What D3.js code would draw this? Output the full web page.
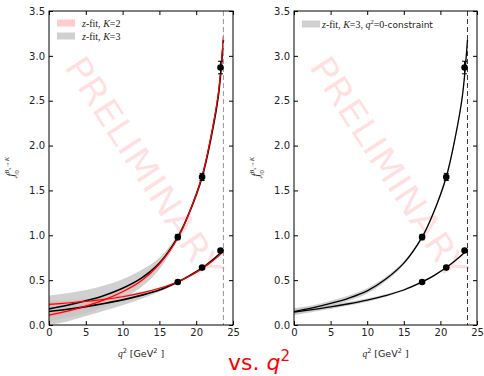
<!DOCTYPE html>
<html>
<head>
<meta charset="utf-8">
<script src="https://cdn.jsdelivr.net/npm/d3@7"></script>
<style>
  body { margin: 0; background: #fff; }
  svg { display: block; }
  text { font-family: "DejaVu Sans", sans-serif; }
</style>
</head>
<body>
<svg id="chart" width="484" height="376"></svg>
<script>
// q^2 grid the curves were read at (GeV^2)
const qGrid = [0, 2.5, 5, 7.5, 10, 12.5, 15, 17.5, 19, 20.8, 22, 23, 23.7]

// left panel: K=3 fit (black, grey band)
const fpK3 = [0.18, 0.22, 0.27, 0.33, 0.41, 0.52, 0.69, 0.98, 1.24, 1.65, 2.08, 2.55, 3.18]
const fpK3Lo = [0.04, 0.08, 0.13, 0.20, 0.29, 0.42, 0.62, 0.95, 1.21, 1.61, 2.03, 2.49, 3.08]
const fpK3Hi = [0.33, 0.355, 0.39, 0.44, 0.51, 0.61, 0.75, 1.01, 1.27, 1.69, 2.13, 2.62, 3.28]
const f0K3 = [0.15, 0.175, 0.205, 0.24, 0.28, 0.33, 0.39, 0.48, 0.545, 0.635, 0.71, 0.78, 0.835]
const f0K3Lo = [0.00, 0.04, 0.10, 0.16, 0.22, 0.29, 0.37, 0.465, 0.53, 0.62, 0.695, 0.765, 0.82]
const f0K3Hi = [0.27, 0.27, 0.29, 0.31, 0.335, 0.37, 0.41, 0.495, 0.56, 0.65, 0.725, 0.795, 0.85]

// left panel: K=2 fit (red, pink band)
const fpK2 = [0.11, 0.155, 0.21, 0.28, 0.37, 0.49, 0.68, 0.97, 1.24, 1.66, 2.10, 2.58, 3.22]
const fpK2Lo = [0.09, 0.135, 0.19, 0.26, 0.35, 0.47, 0.66, 0.955, 1.22, 1.63, 2.06, 2.53, 3.15]
const fpK2Hi = [0.13, 0.175, 0.23, 0.30, 0.39, 0.51, 0.70, 0.985, 1.26, 1.69, 2.14, 2.63, 3.29]
const f0K2 = [0.23, 0.245, 0.263, 0.286, 0.315, 0.355, 0.41, 0.48, 0.54, 0.63, 0.70, 0.765, 0.82]
const f0K2Lo = [0.215, 0.232, 0.25, 0.274, 0.304, 0.345, 0.40, 0.472, 0.532, 0.62, 0.69, 0.755, 0.805]
const f0K2Hi = [0.245, 0.258, 0.276, 0.298, 0.326, 0.365, 0.42, 0.488, 0.548, 0.64, 0.71, 0.775, 0.835]

// right panel: K=3 with q^2=0 constraint
const fpC = [0.15, 0.19, 0.24, 0.30, 0.38, 0.51, 0.69, 0.98, 1.24, 1.65, 2.08, 2.55, 3.18]
const fpCLo = [0.115, 0.16, 0.21, 0.27, 0.35, 0.485, 0.67, 0.965, 1.22, 1.62, 2.05, 2.51, 3.14]
const fpCHi = [0.185, 0.22, 0.27, 0.33, 0.41, 0.535, 0.71, 0.995, 1.26, 1.68, 2.11, 2.59, 3.22]
const f0C = [0.145, 0.172, 0.202, 0.237, 0.278, 0.328, 0.39, 0.48, 0.545, 0.64, 0.715, 0.785, 0.84]
const f0CLo = [0.11, 0.145, 0.178, 0.216, 0.26, 0.313, 0.378, 0.47, 0.535, 0.63, 0.705, 0.775, 0.83]
const f0CHi = [0.18, 0.20, 0.226, 0.258, 0.296, 0.343, 0.402, 0.49, 0.555, 0.65, 0.725, 0.795, 0.85]

// lattice data points
const ptQ2 = [17.5, 20.8, 23.3]
const ptFp = [0.98, 1.65, 2.87]
const ptFpErr = [0.03, 0.04, 0.07]
const ptF0 = [0.48, 0.64, 0.83]
const ptF0Err = [0.01, 0.015, 0.015]

const q2max = 23.7
const xTicks = [0, 5, 10, 15, 20, 25]
const yTicks = [0, 0.5, 1.0, 1.5, 2.0, 2.5, 3.0, 3.5]

const svg = d3.select('#chart')

function series (ys) {
  return qGrid.map((q, i) => ({ q, y: ys[i] }))
}
function bandSeries (lo, hi) {
  return qGrid.map((q, i) => ({ q, lo: lo[i], hi: hi[i] }))
}

function panel (left, right, opts) {
  const top = 11
  const bottom = 325
  const x = d3.scaleLinear().domain([0, 25]).range([left, right])
  const y = d3.scaleLinear().domain([0, 3.5]).range([bottom, top])
  const g = svg.append('g')
  const clipId = 'clip' + opts.id
  g.append('clipPath').attr('id', clipId)
    .append('rect').attr('x', left).attr('y', top)
    .attr('width', right - left).attr('height', bottom - top)

  const inner = g.append('g').attr('clip-path', `url(#${clipId})`)

  // watermark
  inner.append('text')
    .attr('transform', `translate(${left + 95},168) rotate(57)`)
    .attr('text-anchor', 'middle')
    .attr('dy', '0.35em')
    .attr('textLength', 258)
    .attr('lengthAdjust', 'spacingAndGlyphs')
    .style('font-size', '35px')
    .style('fill', '#ff0000')
    .style('fill-opacity', 0.12)
    .text('PRELIMINARY')

  const curve = d3.curveCatmullRom.alpha(0.5)
  const area = d3.area().x(d => x(d.q)).y0(d => y(d.lo)).y1(d => y(d.hi)).curve(curve)
  const line = d3.line().x(d => x(d.q)).y(d => y(d.y)).curve(curve)

  opts.bands.forEach(b => {
    inner.append('path').attr('d', area(bandSeries(b.lo, b.hi)))
      .style('fill', b.color).style('fill-opacity', b.alpha).style('stroke', 'none')
  })
  opts.lines.forEach(l => {
    inner.append('path').attr('d', line(series(l.ys)))
      .style('fill', 'none').style('stroke', l.color).style('stroke-width', l.width)
  })

  // dashed q^2_max line
  inner.append('line')
    .attr('x1', x(q2max)).attr('x2', x(q2max))
    .attr('y1', top).attr('y2', bottom)
    .style('stroke', opts.dashColor).style('stroke-width', 1)
    .style('stroke-dasharray', '5,3')

  // points with error bars
  const pts = []
  ptQ2.forEach((q, i) => {
    pts.push({ q, v: ptFp[i], e: ptFpErr[i] })
    pts.push({ q, v: ptF0[i], e: ptF0Err[i] })
  })
  pts.forEach(p => {
    inner.append('line').attr('x1', x(p.q)).attr('x2', x(p.q))
      .attr('y1', y(p.v - p.e)).attr('y2', y(p.v + p.e))
      .style('stroke', '#000').style('stroke-width', 1)
    ;[p.v - p.e, p.v + p.e].forEach(v => {
      inner.append('line').attr('x1', x(p.q) - 2.5).attr('x2', x(p.q) + 2.5)
        .attr('y1', y(v)).attr('y2', y(v))
        .style('stroke', '#000').style('stroke-width', 1)
    })
    inner.append('circle').attr('cx', x(p.q)).attr('cy', y(p.v)).attr('r', 3.3)
      .style('fill', '#000')
  })

  // axes: ticks inward on all four sides
  const tickLen = 4
  const axB = d3.axisBottom(x).tickValues(xTicks).tickSizeInner(-tickLen).tickSizeOuter(0).tickPadding(4)
    .tickFormat(d3.format('d'))
  const axT = d3.axisTop(x).tickValues(xTicks).tickSizeInner(-tickLen).tickSizeOuter(0).tickFormat('')
  const axL = d3.axisLeft(y).tickValues(yTicks).tickSizeInner(-tickLen).tickSizeOuter(0).tickPadding(4)
    .tickFormat(d3.format('.1f'))
  const axR = d3.axisRight(y).tickValues(yTicks).tickSizeInner(-tickLen).tickSizeOuter(0).tickFormat('')

  const styleAxis = sel => {
    sel.select('.domain').remove()
    sel.selectAll('line').style('stroke', '#000')
    sel.selectAll('text').style('font-size', '10px').style('fill', '#222')
      .style('font-family', '"DejaVu Sans", sans-serif')
  }
  g.append('g').attr('transform', `translate(0,${bottom})`).call(axB).call(styleAxis)
  g.append('g').attr('transform', `translate(0,${top})`).call(axT).call(styleAxis)
  g.append('g').attr('transform', `translate(${left},0)`).call(axL).call(styleAxis)
  g.append('g').attr('transform', `translate(${right},0)`).call(axR).call(styleAxis)

  g.append('rect').attr('x', left).attr('y', top)
    .attr('width', right - left).attr('height', bottom - top)
    .style('fill', 'none').style('stroke', '#000').style('stroke-width', 1)

  // x label
  const xl = g.append('text').attr('x', (left + right) / 2).attr('y', 357)
    .attr('text-anchor', 'middle').style('font-size', '9.5px').style('fill', '#222')
  xl.append('tspan').style('font-family', '"Liberation Serif", serif').style('font-style', 'italic').text('q')
  xl.append('tspan').attr('dy', -4).style('font-size', '6.5px').text('2')
  xl.append('tspan').attr('dy', 4).text(' [GeV')
  xl.append('tspan').attr('dy', -4).style('font-size', '6.5px').text('2')
  xl.append('tspan').attr('dy', 4).text(' ]')

  // y label
  const yl = g.append('text')
    .attr('transform', `translate(${left - 35},${(top + bottom) / 2}) rotate(-90)`)
    .attr('text-anchor', 'middle')
    .style('font-family', '"Liberation Serif", serif').style('font-size', '10px').style('fill', '#222')
  yl.append('tspan').style('font-style', 'italic').text('f')
  yl.append('tspan').attr('dy', -5).style('font-size', '6.5px').style('font-style', 'italic').text('B')
  yl.append('tspan').attr('dy', 1.5).style('font-size', '5px').style('font-style', 'italic').text('s')
  yl.append('tspan').attr('dy', -1.5).style('font-size', '6.5px').text('\u2192')
  yl.append('tspan').style('font-size', '6.5px').style('font-style', 'italic').text('K')
  yl.append('tspan').attr('dx', -22).attr('dy', 10).style('font-size', '6.5px').text('+/0')

  // legend
  opts.legend.forEach((item, i) => {
    const ly = opts.legendY + i * 13
    g.append('rect').attr('x', left + 8).attr('y', ly - 3.5)
      .attr('width', 18).attr('height', 7)
      .style('fill', item.color).style('fill-opacity', item.alpha)
    const t = g.append('text').attr('x', left + opts.legendTextDx).attr('y', ly + 3.5)
      .style('font-family', '"Liberation Serif", serif').style('font-size', '10px').style('fill', '#222')
    item.parts.forEach(p => {
      const ts = t.append('tspan').text(p.t)
      if (p.i) ts.style('font-style', 'italic')
      if (p.sup) ts.attr('dy', -3.5).style('font-size', '6.5px')
      if (p.down) ts.attr('dy', 3.5)
      if (p.sans) ts.style('font-family', '"DejaVu Sans", sans-serif').style('font-size', '9px')
    })
  })
}

panel(49, 233, {
  id: 'L',
  dashColor: '#999',
  legendY: 23,
  legendTextDx: 33,
  bands: [
    { lo: fpK3Lo, hi: fpK3Hi, color: '#c4c4c4', alpha: 0.8 },
    { lo: f0K3Lo, hi: f0K3Hi, color: '#c4c4c4', alpha: 0.8 },
    { lo: fpK2Lo, hi: fpK2Hi, color: '#ff9999', alpha: 0.6 },
    { lo: f0K2Lo, hi: f0K2Hi, color: '#ff9999', alpha: 0.6 }
  ],
  lines: [
    { ys: fpK3, color: '#000', width: 1.6 },
    { ys: f0K3, color: '#000', width: 1.6 },
    { ys: fpK2, color: '#ff0000', width: 1.2 },
    { ys: f0K2, color: '#ff0000', width: 1.2 }
  ],
  legend: [
    { color: '#ffaaaa', alpha: 0.6, parts: [{ t: 'z', i: true }, { t: '-fit, ' }, { t: 'K', i: true }, { t: '=2' }] },
    { color: '#c4c4c4', alpha: 0.8, parts: [{ t: 'z', i: true }, { t: '-fit, ' }, { t: 'K', i: true }, { t: '=3' }] }
  ]
})

panel(294, 477, {
  id: 'R',
  dashColor: '#333',
  legendY: 24,
  legendTextDx: 28,
  bands: [
    { lo: fpCLo, hi: fpCHi, color: '#c4c4c4', alpha: 0.8 },
    { lo: f0CLo, hi: f0CHi, color: '#c4c4c4', alpha: 0.8 }
  ],
  lines: [
    { ys: fpC, color: '#000', width: 1.3 },
    { ys: f0C, color: '#000', width: 1.3 }
  ],
  legend: [
    {
      color: '#c4c4c4',
      alpha: 0.8,
      parts: [{ t: 'z', i: true }, { t: '-fit, ' }, { t: 'K', i: true }, { t: '=3, ' }, { t: 'q', i: true },
        { t: '2', sup: true }, { t: '=0', down: true }, { t: '-constraint', sans: true }]
    }
  ]
})

// "vs. q^2" caption
const cap = svg.append('text').attr('x', 228).attr('y', 370)
  .style('font-size', '22px').style('fill', '#ff0000')
cap.append('tspan').text('vs. ')
cap.append('tspan').style('font-style', 'italic').text('q')
cap.append('tspan').attr('dy', -9).style('font-size', '15px').text('2')
</script>
</body>
</html>
